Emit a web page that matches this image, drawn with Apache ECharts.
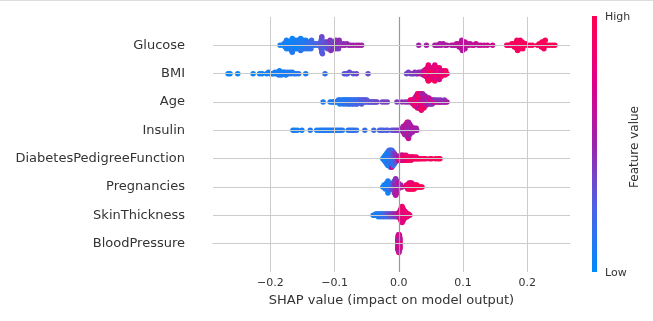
<!DOCTYPE html>
<html>
<head>
<meta charset="utf-8">
<script src="https://cdn.jsdelivr.net/npm/echarts@6/dist/echarts.min.js"></script>
<style>
  html, body { margin: 0; padding: 0; background: #ffffff; }
  #chart { width: 653px; height: 321px; }
</style>
</head>
<body>
<div id="chart"></div>
<script>
// Features, top row first
const features = ['Glucose', 'BMI', 'Age', 'Insulin', 'DiabetesPedigreeFunction',
                  'Pregnancies', 'SkinThickness', 'BloodPressure'];

// x-axis tick values
const xTicks = [-0.2, -0.1, 0.0, 0.1, 0.2];

// Each entry: [SHAP value, [normalised feature values of the samples at that SHAP value]]
const glucose = [
  [-0.185,[.05]],
  [-0.180,[.06]],[-0.179,[.10]],[-0.178,[.03]],[-0.177,[.08,.04]],[-0.176,[.12]],[-0.175,[.05,.09]],[-0.174,[.09]],
  [-0.173,[.02]],[-0.172,[.11,.03]],[-0.171,[.07]],[-0.170,[.04,.13]],[-0.169,[.08,.02]],[-0.168,[.06]],[-0.167,[.10,.05]],
  [-0.166,[.03,.12]],[-0.165,[.07]],[-0.164,[.09,.04]],[-0.163,[.05]],[-0.162,[.14,.06]],[-0.161,[.08]],[-0.160,[.11,.06]],
  [-0.159,[.13,.03]],[-0.158,[.09]],[-0.157,[.15,.07]],[-0.156,[.07]],[-0.155,[.12,.04]],[-0.154,[.10]],[-0.153,[.14,.08]],
  [-0.152,[.09]],[-0.151,[.16,.05]],[-0.150,[.12]],[-0.149,[.14,.07]],[-0.148,[.08]],[-0.147,[.15,.10]],[-0.146,[.11]],
  [-0.145,[.17,.06]],[-0.144,[.13]],[-0.143,[.16,.09]],[-0.142,[.19]],[-0.141,[.12]],[-0.140,[.18,.11]],[-0.139,[.15]],
  [-0.138,[.20]],[-0.137,[.17]],[-0.136,[.20]],[-0.135,[.14]],[-0.133,[.22]],[-0.131,[.19]],[-0.129,[.24]],
  [-0.127,[.21]],[-0.125,[.26]],
  [-0.122,[.24,.30]],[-0.121,[.20,.28,.33,.26]],[-0.120,[.22,.31,.27,.35]],[-0.119,[.29]],
  [-0.117,[.30]],[-0.116,[.36,.27]],[-0.115,[.28]],[-0.114,[.40]],[-0.113,[.33,.25]],[-0.112,[.38]],[-0.111,[.31]],
  [-0.110,[.42,.30]],[-0.109,[.35]],[-0.108,[.39]],[-0.107,[.32,.44]],[-0.106,[.44]],[-0.105,[.37]],[-0.104,[.41,.33]],
  [-0.103,[.34]],[-0.102,[.46]],[-0.101,[.38,.45]],[-0.100,[.43]],[-0.099,[.36]],[-0.098,[.45,.40]],[-0.097,[.40]],
  [-0.096,[.48]],[-0.095,[.42,.47]],[-0.094,[.39]],[-0.093,[.47]],[-0.092,[.44]],[-0.090,[.41]],[-0.088,[.49]],
  [-0.086,[.45]],[-0.084,[.50]],[-0.081,[.47]],[-0.078,[.52]],[-0.075,[.49]],[-0.071,[.53]],[-0.066,[.51]],
  [-0.062,[.55]],[-0.058,[.52]],
  [0.031,[.52]],[0.043,[.54]],[0.056,[.53]],[0.059,[.56]],[0.062,[.54]],[0.064,[.57]],[0.066,[.55]],
  [0.069,[.57]],[0.072,[.54]],[0.075,[.58]],
  [0.082,[.56]],[0.085,[.59]],[0.088,[.57]],[0.090,[.60]],[0.092,[.58]],[0.094,[.62,.57]],[0.096,[.60,.64]],
  [0.097,[.63]],[0.098,[.61,.65,.58]],[0.099,[.59]],[0.100,[.63,.60]],[0.101,[.61]],[0.103,[.64,.58]],[0.105,[.62]],
  [0.107,[.60]],[0.109,[.64]],[0.111,[.61]],[0.114,[.65]],[0.117,[.63]],[0.120,[.66]],[0.124,[.63]],
  [0.128,[.67]],[0.133,[.64]],[0.138,[.68]],[0.146,[.66]],
  [0.168,[.88]],[0.171,[.92]],[0.174,[.86]],[0.176,[.95]],[0.178,[.90]],[0.179,[.94]],[0.180,[.97]],[0.181,[.89]],
  [0.182,[.93,.87]],[0.183,[.99]],[0.184,[.91,.96]],[0.185,[.96]],[0.186,[.88,.93]],[0.187,[.94]],[0.188,[1.0,.90]],
  [0.189,[.92]],[0.190,[.97,.91]],[0.191,[.90]],[0.192,[.95]],[0.193,[.95]],[0.195,[.98]],[0.197,[.93]],[0.200,[.96]],
  [0.204,[.91]],[0.208,[.97]],
  [0.216,[.94]],[0.219,[.99]],[0.221,[.92]],[0.222,[.97,.93]],[0.223,[1.0]],[0.224,[.95,.90]],[0.225,[.98,.94]],
  [0.226,[.93]],[0.228,[.99]],[0.231,[.96]],[0.235,[1.0]],[0.239,[.97]],[0.243,[.98]]
];

const bmi = [
  [-0.266,[.02]],[-0.263,[.04]],[-0.251,[.03]],[-0.227,[.05]],[-0.217,[.04]],[-0.213,[.06]],[-0.206,[.03]],
  [-0.203,[.07]],[-0.200,[.05]],[-0.197,[.08]],[-0.195,[.04]],[-0.193,[.06]],[-0.191,[.09]],[-0.189,[.05,.07]],
  [-0.187,[.10]],[-0.186,[.06]],[-0.185,[.08]],[-0.183,[.04,.09]],[-0.182,[.07]],[-0.180,[.11]],[-0.179,[.05]],
  [-0.178,[.08]],[-0.176,[.10]],[-0.175,[.06]],[-0.174,[.12]],[-0.172,[.09]],[-0.170,[.07]],[-0.168,[.13]],
  [-0.166,[.10]],[-0.163,[.12]],[-0.160,[.09]],[-0.156,[.14]],[-0.145,[.11]],[-0.115,[.16]],
  [-0.085,[.28]],[-0.082,[.32]],[-0.080,[.26]],[-0.077,[.34]],[-0.071,[.30]],[-0.066,[.36]],[-0.048,[.33]],
  [0.012,[.36]],[0.015,[.40]],[0.018,[.34]],[0.021,[.44]],[0.023,[.38]],[0.025,[.47]],[0.027,[.42]],
  [0.029,[.50]],[0.031,[.45]],[0.033,[.52]],[0.034,[.48]],[0.036,[.56]],[0.037,[.50]],[0.038,[.60]],
  [0.039,[.54]],[0.040,[.62,.70]],
  [0.041,[.60,.82]],[0.042,[.70,.92]],[0.043,[.65,.85,.97]],[0.044,[.75,.95,.68]],[0.045,[.68,.88,.79]],
  [0.046,[.72,.92,.86]],[0.047,[.80,.64,.98]],[0.048,[.90,.76,.98]],[0.049,[.70,.86,.94]],[0.050,[.78,1.0,.66]],
  [0.051,[.89,.74,.96]],[0.052,[.82,.68,.91]],[0.053,[.77,.99,.87]],[0.054,[.84,.71,.93]],[0.055,[.93,.79,.66]],
  [0.056,[.87,.97,.75]],[0.057,[.73,.90,.85]],[0.058,[.83,.95,.70]],[0.059,[.76,.89]],[0.060,[.88,.81,.96]],
  [0.061,[.94,.72]],[0.062,[.79,.91]],[0.063,[.85,.67]],[0.064,[.97,.80]],[0.065,[.80,.74]],[0.066,[.92]],
  [0.067,[.86,.70]],[0.068,[.95]],[0.069,[.83]],[0.070,[.90,.76]],[0.072,[.87]],[0.073,[.93]],[0.075,[.89]]
];

const age = [
  [-0.118,[.10]],[-0.107,[.08]],[-0.104,[.12]],[-0.102,[.06]],[-0.100,[.14]],[-0.098,[.09]],[-0.096,[.11]],
  [-0.095,[.05]],[-0.094,[.13]],[-0.093,[.08]],[-0.092,[.16,.07]],[-0.091,[.10]],[-0.090,[.07]],[-0.089,[.12]],
  [-0.088,[.15]],[-0.087,[.09,.14]],[-0.086,[.18]],[-0.085,[.11]],[-0.084,[.14]],[-0.083,[.08,.19]],
  [-0.082,[.17]],[-0.081,[.12]],[-0.080,[.20,.10]],[-0.079,[.10]],[-0.078,[.15]],[-0.077,[.13,.22]],
  [-0.076,[.19]],[-0.075,[.11]],[-0.074,[.22,.16]],[-0.073,[.16]],[-0.072,[.14]],[-0.071,[.20,.25]],
  [-0.070,[.12]],[-0.069,[.18]],[-0.068,[.24,.15]],[-0.067,[.15]],[-0.066,[.21]],[-0.065,[.17,.26]],
  [-0.064,[.26]],[-0.063,[.19]],[-0.062,[.23,.18]],[-0.061,[.16]],[-0.060,[.28]],[-0.059,[.20]],
  [-0.058,[.25,.30]],[-0.057,[.22]],[-0.056,[.30]],[-0.055,[.24]],[-0.054,[.27]],[-0.053,[.21]],[-0.052,[.31]],
  [-0.051,[.26]],[-0.050,[.29]],[-0.048,[.33]],[-0.046,[.27]],[-0.044,[.32]],[-0.042,[.30]],[-0.040,[.35]],
  [-0.038,[.31]],[-0.036,[.34]],[-0.034,[.37]],
  [-0.026,[.36]],[-0.022,[.38]],[-0.018,[.40]],[-0.003,[.42]],[0.005,[.45]],[0.010,[.48]],[0.014,[.44]],
  [0.018,[.58,.85]],[0.020,[.66,.92]],[0.022,[.55,.88,.70]],[0.024,[.96,.60,.78]],[0.025,[.90,.65]],
  [0.026,[.98,.56,.84]],[0.027,[.80,.94,.62]],[0.028,[.72,1.0,.90,.58]],[0.029,[.86,.66,.97,.78]],
  [0.030,[.93,.62,.82,.99]],[0.031,[.75,.95,.56,.88]],[0.032,[.66,.84,.98,.70]],[0.033,[.94,.55,.86,1.0]],
  [0.034,[.80,.62,.91,.96,.68]],[0.035,[.90,.72,.57,.85]],[0.036,[.97,.58,.80,.74]],[0.037,[.85,.66,.95,.52]],
  [0.038,[.92,.52,.76,.62]],[0.039,[.80,.58,.90]],[0.040,[.94,.55,.70]],[0.041,[.62,.84,.50]],[0.042,[.86,.54]],
  [0.043,[.56,.70]],[0.044,[.82,.48]],[0.045,[.66,.52]],[0.046,[.90,.46]],[0.047,[.52,.60]],[0.048,[.74,.48]],
  [0.049,[.58]],[0.050,[.84,.46]],[0.051,[.50]],[0.052,[.70,.44]],[0.054,[.56,.46]],[0.055,[.78]],
  [0.057,[.54,.42]],[0.059,[.68]],[0.061,[.47,.44]],[0.063,[.62]],[0.065,[.52,.42]],[0.067,[.66]],
  [0.069,[.46]],[0.071,[.58,.43]],[0.073,[.50]],[0.075,[.55]]
];

const insulin = [
  [-0.165,[.08]],[-0.162,[.05]],[-0.158,[.10]],[-0.151,[.07]],[-0.138,[.12]],[-0.128,[.09]],[-0.124,[.06]],
  [-0.121,[.11]],[-0.118,[.08]],[-0.115,[.13]],[-0.112,[.10]],[-0.109,[.07]],[-0.106,[.12]],[-0.103,[.09]],
  [-0.100,[.14]],[-0.097,[.11]],[-0.094,[.08]],[-0.091,[.13]],[-0.088,[.10]],[-0.079,[.15]],[-0.076,[.12]],
  [-0.073,[.17]],[-0.070,[.14]],[-0.066,[.16]],[-0.053,[.18]],[-0.039,[.20]],[-0.030,[.22]],[-0.027,[.26]],
  [-0.024,[.24]],[-0.020,[.28]],[-0.017,[.25]],[-0.011,[.30]],[-0.008,[.33]],[-0.005,[.35]],[-0.002,[.38]],
  [0.001,[.40]],[0.003,[.42]],
  [0.004,[.45]],[0.005,[.50]],[0.006,[.42,.55]],[0.007,[.55,.47]],[0.008,[.47,.60]],[0.009,[.44,.52,.58]],
  [0.010,[.48,.58,.62]],[0.011,[.46,.53,.62]],[0.012,[.49,.56,.43,.60]],[0.013,[.51,.59,.47,.95]],
  [0.014,[.54,.45,.61,.50,.90]],[0.015,[.57,.48,.53,.64]],[0.016,[.46,.55,.51]],[0.017,[.59,.49,.56]],
  [0.018,[.52,.47]],[0.019,[.58,.54]],[0.020,[.50,.60]],[0.021,[.53]],[0.022,[.48]],[0.023,[.56]],
  [0.024,[.51]],[0.025,[.57]],[0.026,[.52]],[0.027,[.55]],[0.028,[.50]]
];

const diabetesPedigree = [
  [-0.025,[.05]],[-0.023,[.08,.03,.12]],[-0.021,[.06,.10,.02,.14,.09]],[-0.019,[.04,.11,.07,.15,.03,.09,.13]],
  [-0.017,[.06,.12,.02,.16,.09,.05,.18,.10,.08]],[-0.015,[.07,.14,.03,.11,.19,.06,.10,.16,.04,.12]],
  [-0.013,[.09,.15,.05,.21,.12,.08,.17,.03,.13,.24,.10]],[-0.011,[.11,.18,.06,.25,.14,.09,.30,.16,.04,.20,.70]],
  [-0.009,[.15,.22,.10,.28,.17,.33,.12,.26,.19]],[-0.007,[.20,.30,.14,.36,.24,.40,.18]],
  [-0.005,[.28,.38,.22,.44,.32]],[-0.003,[.35,.45,.30]],[-0.001,[.40,.50,.55]],
  [0.001,[.60,.72,.55]],[0.003,[.80,.66,.90,.58]],[0.005,[.75,.95,.62,.85]],[0.007,[.70,.88,.98,.64]],
  [0.009,[.82,.92,.68]],[0.011,[.90,.76,1.0,.84]],[0.013,[.86,.96,.74]],[0.015,[.92,.80,.99]],
  [0.017,[.88,.95]],[0.019,[.84,.97,.90]],[0.021,[.93,.86]],[0.023,[.96,.89]],[0.025,[.91]],
  [0.027,[.98,.87]],[0.029,[.94]],[0.031,[.90]],[0.033,[.97]],[0.036,[.93]],[0.039,[.99]],[0.042,[.95]],
  [0.048,[.92]],[0.051,[.97]],[0.057,[.94]],[0.061,[1.0]],[0.064,[.96]]
];

const pregnancies = [
  [-0.025,[.05]],[-0.023,[.08,.03]],[-0.021,[.06,.10,.04]],[-0.019,[.09,.02,.12,.07]],
  [-0.017,[.05,.11,.08,.03,.14,.10,.06]],[-0.015,[.12,.07,.15,.09]],[-0.013,[.18,.10,.22]],
  [-0.011,[.25,.15,.30]],[-0.009,[.32,.20,.38,.28]],[-0.007,[.36,.42,.30,.48,.40,.34,.45]],
  [-0.005,[.40,.50,.35,.55,.44,.38,.52,.46,.60]],[-0.003,[.48,.42,.56,.38,.52,.45,.58]],
  [-0.001,[.50,.44,.55,.62]],[0.001,[.52,.58]],[0.003,[.55,.48]],[0.005,[.60]],
  [0.012,[.80,.88]],[0.014,[.85,.92,.78]],[0.016,[.90,.82,.96,.86]],[0.018,[.94,.84,.98,.88]],
  [0.020,[.87,.99,.91,.83]],[0.022,[.95,.89,1.0]],[0.024,[.92,.86,.97]],[0.026,[.98,.90]],
  [0.028,[.93,.96]],[0.030,[1.0]],[0.032,[.95]],[0.034,[.97]],[0.036,[.99]]
];

const skinThickness = [
  [-0.040,[.05]],[-0.038,[.08]],[-0.036,[.04,.10]],[-0.034,[.07,.12]],[-0.032,[.06,.11,.09]],[-0.030,[.10,.14]],
  [-0.028,[.12,.08,.16]],[-0.026,[.15,.11]],[-0.024,[.18,.13,.20]],[-0.022,[.20,.24]],[-0.020,[.22,.28,.18]],
  [-0.018,[.26,.30]],[-0.016,[.28,.34,.24]],[-0.014,[.32,.36]],[-0.012,[.35,.40,.30]],[-0.010,[.38,.42]],
  [-0.008,[.40,.45,.36]],[-0.006,[.42,.48]],[-0.004,[.45,.50,.40]],[-0.002,[.48,.55,.44]],
  [0.000,[.52,.60,.46,.65]],[0.002,[.55,.70,.62,.80,.58,.75]],[0.003,[.60,.85,.68,.90,.72,.64,.95,.78]],
  [0.004,[.66,.88,.74,.98,.70,.82,.92,.62,.86,.76]],[0.005,[.72,.94,.80,.68,1.0,.84,.76,.90,.64,.96,.78,.88]],
  [0.006,[.70,.86,.92,.74,.82,.98,.66,.90,.78,.85]],[0.007,[.76,.88,.70,.94,.80,.84,.72,.91]],
  [0.009,[.82,.74,.90,.68,.86,.78]],[0.011,[.80,.92,.72,.88]],[0.013,[.85,.76,.90]],[0.015,[.78,.88]],
  [0.017,[.82]]
];

const bloodPressure = [
  [-0.0015,[.55,.35,.75,.15,.85,.45,.65,.25,.80]],
  [-0.0010,[.85,.25,.70,.50,.05,.80,.60,.40,.95,.15,.65,.55]],
  [-0.0005,[.75,.35,.90,.55,.10,.65,.80,.45,.85,.20,.60,.70,.95,.50]],
  [0.0000,[.70,.85,.40,.80,.15,.55,.90,.65,.75,.30,.60,.50,.82,.45,.88]],
  [0.0005,[.80,.50,.90,.35,.70,.60,.85,.25,.65,.75,.55,.92,.45,.82]],
  [0.0010,[.60,.85,.45,.75,.55,.90,.70,.80,.65,.88,.50,.72]],
  [0.0015,[.65,.80,.50,.90,.55,.75,.85,.60,.70]]
];

const rows = [glucose, bmi, age, insulin, diabetesPedigree, pregnancies, skinThickness, bloodPressure];

// Blue -> purple -> red feature-value colour scale (low -> high)
const colorStops = ['#008bfb', '#4b63e3', '#9c23ac', '#e00086', '#ff0051'];

// Beeswarm layout: points falling into the same bin are stacked alternately above/below the row
function swarmOffsets(xs, rowHeight) {
  const lo = Math.min(...xs), hi = Math.max(...xs);
  const nbins = 100;
  const quant = xs.map(x => Math.round(nbins * (x - lo) / (hi - lo + 1e-8)));
  const order = xs.map((_, i) => i).sort((a, b) => quant[a] - quant[b] || a - b);
  const ys = new Array(xs.length).fill(0);
  let layer = 0, lastBin = -1;
  for (const i of order) {
    if (quant[i] !== lastBin) layer = 0;
    ys[i] = Math.ceil(layer / 2) * ((layer % 2) * 2 - 1);
    layer++;
    lastBin = quant[i];
  }
  const top = Math.max(...ys) + 1;
  return ys.map(y => y * 0.9 * (rowHeight / top));
}

const points = [];
rows.forEach((groups, r) => {
  const xs = [], cs = [];
  groups.forEach(([x, vals]) => vals.forEach(v => { xs.push(x); cs.push(v); }));
  const offs = swarmOffsets(xs, 0.4);
  const pos = features.length - 1 - r;
  xs.forEach((x, i) => points.push([x, pos + offs[i], cs[i]]));
});

const FONT = 'DejaVu Sans';
const TEXT = '#333333';
const GRID = '#cccccc';

const chart = echarts.init(document.getElementById('chart'), null, { renderer: 'canvas' });

const guideLines = [];
xTicks.forEach(v => {
  guideLines.push({ xAxis: v, lineStyle: v === 0 ? { color: '#999999', width: 1.2, type: 'solid' }
                                                 : { color: GRID, width: 1, type: 'solid' } });
});
features.forEach((_, i) => {
  guideLines.push({ yAxis: i, lineStyle: { color: GRID, width: 1, type: 'solid' } });
});

chart.setOption({
  animation: false,
  backgroundColor: '#ffffff',
  grid: { left: 213, right: 83, top: 17, bottom: 49, containLabel: false },
  xAxis: {
    type: 'value',
    min: -0.2895,
    max: 0.2666,
    splitNumber: 5,
    axisLine: { show: true, lineStyle: { color: GRID, width: 1 } },
    axisTick: { show: false },
    splitLine: { show: false },
    axisLabel: {
      fontSize: 11, color: TEXT, fontFamily: FONT, margin: 6,
      formatter: v => {
        const t = Math.round(v * 10);
        if (Math.abs(v * 10 - t) > 1e-6) return '';
        return (t < 0 ? '\u2212' : '') + Math.abs(t / 10).toFixed(1);
      }
    },
    name: 'SHAP value (impact on model output)',
    nameLocation: 'middle',
    nameGap: 21,
    nameTextStyle: { fontSize: 13, color: TEXT, fontFamily: FONT }
  },
  yAxis: {
    type: 'value',
    min: -1,
    max: 8,
    interval: 1,
    axisLine: { show: false },
    axisTick: { show: false },
    splitLine: { show: false },
    axisLabel: {
      fontSize: 13, color: TEXT, fontFamily: FONT, margin: 28,
      formatter: v => features[features.length - 1 - v] || ''
    }
  },
  visualMap: {
    show: false,
    type: 'continuous',
    seriesIndex: 1,
    dimension: 2,
    min: 0,
    max: 1,
    inRange: { color: colorStops }
  },
  series: [
    {
      type: 'scatter',
      data: [],
      silent: true,
      z: 1,
      markLine: {
        silent: true,
        symbol: 'none',
        animation: false,
        label: { show: false },
        emphasis: { disabled: true },
        data: guideLines
      }
    },
    {
      type: 'scatter',
      data: points,
      symbol: 'circle',
      symbolSize: 5.5,
      z: 3,
      silent: true,
      itemStyle: { opacity: 1, borderWidth: 0 }
    }
  ],
  graphic: [
    { type: 'line', shape: { x1: 0, y1: 0.5, x2: 653, y2: 0.5 }, style: { stroke: '#dddddd', lineWidth: 1 }, silent: true },
    {
      type: 'rect', shape: { x: 592, y: 16, width: 5, height: 256 }, silent: true,
      style: {
        fill: new echarts.graphic.LinearGradient(0, 1, 0, 0,
          colorStops.map((c, i) => ({ offset: i / (colorStops.length - 1), color: c })))
      }
    },
    { type: 'text', x: 605, y: 17, silent: true,
      style: { text: 'High', fontSize: 11, fill: TEXT, fontFamily: FONT, verticalAlign: 'middle' } },
    { type: 'text', x: 605, y: 273, silent: true,
      style: { text: 'Low', fontSize: 11, fill: TEXT, fontFamily: FONT, verticalAlign: 'middle' } },
    { type: 'text', x: 635, y: 147, rotation: Math.PI / 2, silent: true,
      style: { text: 'Feature value', fontSize: 12, fill: TEXT, fontFamily: FONT, align: 'center', verticalAlign: 'middle' } }
  ]
});
</script>
</body>
</html>
